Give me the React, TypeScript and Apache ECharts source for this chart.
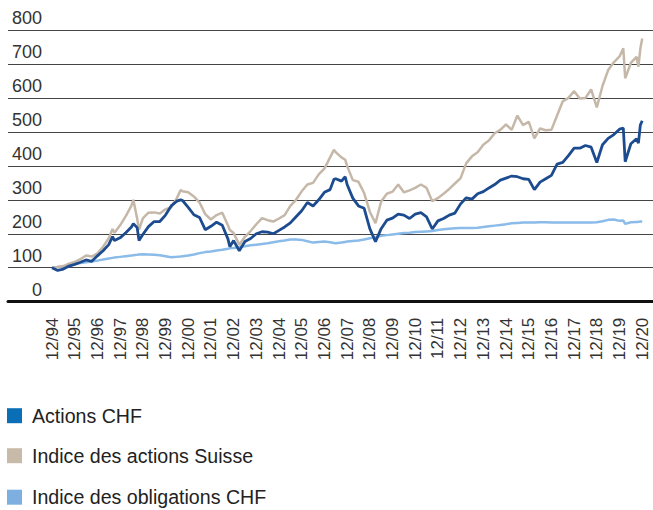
import React, { useEffect, useRef } from "react";
import * as echarts from "echarts";

// Observation dates (MM/YY)
const dates = [
  "12/94", "03/95", "06/95", "09/95", "12/95", "03/96", "06/96", "09/96", "12/96",
  "03/97", "06/97", "08/97", "09/97", "12/97", "03/98", "06/98", "07/98", "09/98", "10/98", "12/98",
  "03/99", "06/99", "09/99", "12/99", "03/00", "06/00", "08/00", "09/00", "12/00",
  "03/01", "06/01", "09/01", "12/01", "03/02", "06/02", "09/02", "10/02", "12/02",
  "03/03", "06/03", "09/03", "12/03", "03/04", "06/04", "09/04", "12/04",
  "03/05", "06/05", "09/05", "12/05", "03/06", "06/06", "09/06", "12/06",
  "03/07", "05/07", "06/07", "09/07", "11/07", "12/07", "03/08", "06/08", "09/08", "12/08",
  "03/09", "06/09", "09/09", "12/09", "03/10", "06/10", "09/10", "12/10",
  "03/11", "06/11", "09/11", "12/11", "03/12", "06/12", "09/12", "12/12",
  "03/13", "06/13", "09/13", "12/13", "03/14", "06/14", "09/14", "12/14",
  "03/15", "06/15", "09/15", "12/15", "03/16", "06/16", "09/16", "12/16",
  "03/17", "06/17", "09/17", "12/17", "03/18", "06/18", "09/18", "12/18",
  "03/19", "06/19", "09/19", "12/19", "02/20", "03/20", "06/20", "09/20", "10/20", "11/20", "12/20",
];

const actionsCHF = [
  100, 92, 96, 105, 110, 116, 123, 119, 135,
  150, 168, 192, 180, 188, 203, 220, 230, 218, 180, 198,
  221, 236, 236, 255, 282, 296, 300, 298, 278,
  256, 248, 212, 222, 234, 225, 185, 162, 180,
  150, 177, 186, 200, 206, 205, 200, 210,
  220, 232, 250, 268, 292, 282, 300, 322,
  330, 360, 362, 355, 368, 345, 305, 282, 275, 215,
  177, 215, 240, 246, 258, 255, 245, 258,
  262, 250, 214, 238, 245, 255, 261, 288,
  306, 302, 318, 324, 335, 345, 358, 364,
  370, 368, 362, 360, 330, 352, 362, 372,
  405, 410, 430, 452, 452, 460, 455, 410,
  462, 481, 492, 508, 511, 412, 465, 480, 467, 520, 533,
];

const indiceActionsSuisse = [
  100, 102, 105, 112, 117, 125, 136, 133, 142,
  162, 187, 214, 203, 225, 252, 283, 300, 245, 212, 245,
  262, 263, 260, 272, 278, 305, 329, 325, 322,
  310, 292, 258, 242, 255, 262, 225, 211, 202,
  168, 191, 208, 228, 246, 240, 236, 245,
  255, 282, 300, 325, 345, 350, 375, 392,
  425, 447, 440, 425, 418, 400, 358, 353, 320, 265,
  231, 295, 318, 324, 345, 322, 328, 335,
  345, 335, 296, 305, 318, 332, 348, 364,
  408, 428, 440, 462, 475, 496, 506, 522,
  506, 548, 520, 530, 481, 510, 505, 506,
  548, 590, 600, 620, 598, 600, 625, 572,
  635, 682, 705, 722, 746, 658, 703, 721, 692, 745, 775,
];

const indiceObligationsCHF = [
  100, 102, 104, 108, 111, 114, 116, 118, 121,
  124, 127, 129, 130, 132, 134, 136, 137, 138, 139, 140,
  139, 138, 137, 134, 131, 132, 133, 134, 136,
  139, 143, 146, 148, 151, 153, 156, 157, 158,
  161, 163, 166, 168, 170, 172, 175, 178,
  180, 183, 183, 182, 178, 174, 176, 177,
  175, 173, 172, 174, 176, 177, 179, 180, 183, 187,
  190, 194, 196, 198, 200, 202, 203, 205,
  206, 207, 208, 211, 213, 215, 216, 217,
  217, 217, 218, 220, 222, 224, 226, 228,
  231, 232, 233, 233, 233, 234, 234, 233,
  233, 233, 233, 233, 233, 233, 233, 234,
  237, 241, 242, 238, 239, 229, 234, 235, 235, 236, 236,
];

const tickLabels = [
  "12/94", "12/95", "12/96", "12/97", "12/98", "12/99", "12/00", "12/01", "12/02",
  "12/03", "12/04", "12/05", "12/06", "12/07", "12/08", "12/09", "12/10", "12/11",
  "12/12", "12/13", "12/14", "12/15", "12/16", "12/17", "12/18", "12/19", "12/20",
];

const seriesNames = ["Actions CHF", "Indice des actions Suisse", "Indice des obligations CHF"];
const legendColors = ["#0b6fb8", "#c8baa9", "#7db0e0"];
const lineColors = ["#1c4c8f", "#c6b8a8", "#8bbbe9"];

const FONT = "'Liberation Sans', Arial, Helvetica, sans-serif";

function monthIndex(d: string): number {
  const m = parseInt(d.slice(0, 2), 10);
  const yy = parseInt(d.slice(3), 10);
  const year = yy >= 90 ? 1900 + yy : 2000 + yy;
  return (year - 1994) * 12 + (m - 12);
}

function toPairs(values: number[]) {
  return values.map((v, i) => [monthIndex(dates[i]), v]);
}

export default function App() {
  const ref = useRef<HTMLDivElement>(null);

  useEffect(() => {
    if (!ref.current) return;
    const chart = echarts.init(ref.current, undefined, { renderer: "svg" });
    const tickValues = tickLabels.map((_, i) => i * 12);
    const legendTops = [405.7, 445.7, 487.2];
    chart.setOption({
      animation: false,
      grid: { left: 8, right: 0, top: 30, bottom: 208.3, containLabel: false },
      legend: seriesNames.map((name, i) => ({
        orient: "vertical",
        left: 7,
        top: legendTops[i],
        padding: 0,
        itemWidth: 15,
        itemHeight: 15,
        icon: "rect",
        selectedMode: false,
        textStyle: { fontSize: 19.6, color: "#222", fontFamily: FONT, padding: [0, 0, 0, 5] },
        data: [{ name, itemStyle: { color: legendColors[i], borderWidth: 0 } }],
      })),
      xAxis: {
        type: "value",
        min: -23.26,
        max: 317.7,
        axisLine: { show: true, onZero: false, lineStyle: { color: "#111", width: 3 } },
        axisTick: { show: false },
        splitLine: { show: false },
        axisLabel: {
          customValues: tickValues,
          rotate: 90,
          margin: 16,
          fontSize: 17,
          color: "#333",
          fontFamily: FONT,
          formatter: (v: number) => {
            const i = Math.round(v / 12);
            return v >= 0 && v % 12 === 0 && i < tickLabels.length ? tickLabels[i] : "";
          },
        },
      },
      yAxis: {
        type: "value",
        min: 0,
        max: 800,
        interval: 100,
        axisLine: { show: false },
        axisTick: { show: false },
        splitLine: { show: true, lineStyle: { color: "#444", width: 1.2 } },
        axisLabel: {
          inside: true,
          align: "right",
          verticalAlign: "bottom",
          margin: 34,
          padding: [0, 0, 3, 0],
          fontSize: 18,
          color: "#333",
          fontFamily: FONT,
        },
      },
      series: [
        {
          name: seriesNames[2],
          type: "line",
          showSymbol: false,
          data: toPairs(indiceObligationsCHF),
          lineStyle: { color: lineColors[2], width: 2.5 },
          itemStyle: { color: legendColors[2] },
        },
        {
          name: seriesNames[1],
          type: "line",
          showSymbol: false,
          data: toPairs(indiceActionsSuisse),
          lineStyle: { color: lineColors[1], width: 2.5 },
          itemStyle: { color: legendColors[1] },
        },
        {
          name: seriesNames[0],
          type: "line",
          showSymbol: false,
          data: toPairs(actionsCHF),
          lineStyle: { color: lineColors[0], width: 2.8 },
          itemStyle: { color: legendColors[0] },
        },
      ],
    });
    return () => chart.dispose();
  }, []);

  return (
    <div
      ref={ref}
      style={{ position: "absolute", left: 0, top: 0, width: 653, height: 510 }}
    />
  );
}
